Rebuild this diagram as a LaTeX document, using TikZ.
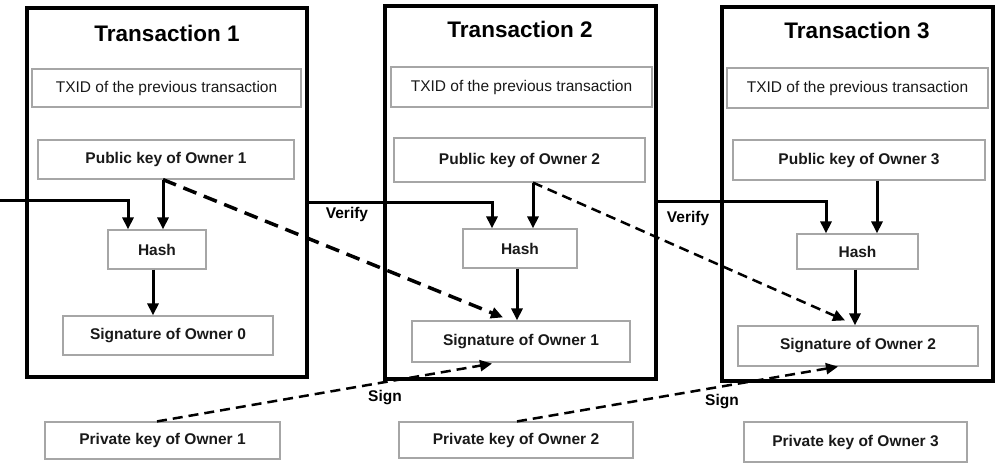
\documentclass[tikz,border=0pt]{standalone}
\usepackage{fontspec}
\setmainfont{Liberation Sans}
\usetikzlibrary{arrows.meta,calc}
\begin{document}
\begin{tikzpicture}[x=1pt,y=-1pt,
  txbox/.style={draw=black,line width=3.5pt,inner sep=0pt,anchor=center},
  inbox/.style={draw=gray!70,line width=1.2pt,inner sep=0pt,anchor=center,text=black!90,font=\fontsize{15.5}{18}\selectfont},
  bold/.style={font=\fontsize{15.5}{18}\selectfont\bfseries},
  title/.style={font=\fontsize{22.5}{26}\selectfont\bfseries},
  lbl/.style={font=\fontsize{15.5}{18}\selectfont\bfseries,inner sep=0pt},
  arr/.style={line width=3pt,-{Triangle[length=12pt,width=11pt]}},
  dthick/.style={line width=3.5pt,dash pattern=on 14pt off 8pt,-{Triangle[length=12pt,width=11pt]}},
  dthin/.style={line width=2.5pt,dash pattern=on 10pt off 6pt,-{Triangle[length=12pt,width=11pt]}}]
\useasboundingbox (0,0) rectangle (1000,466);
% transaction frames
\node[txbox,minimum width=280,minimum height=369] (t1) at (167,192.5) {};
\node[txbox,minimum width=271,minimum height=373] (t2) at (520.5,192.5) {};
\node[txbox,minimum width=271,minimum height=374] (t3) at (857.5,194) {};
\node[title] (ti1) at (167,33) {Transaction 1};
\node[title] (ti2) at (520,29) {Transaction 2};
\node[title] (ti3) at (857,30) {Transaction 3};
% TXID
\node[inbox,minimum width=269,minimum height=38] (tx1) at (166.5,88) {TXID of the previous transaction};
\node[inbox,minimum width=261,minimum height=40] (tx2) at (521.5,87) {TXID of the previous transaction};
\node[inbox,minimum width=261,minimum height=40] (tx3) at (857.5,88) {TXID of the previous transaction};
% public keys
\node[inbox,bold,minimum width=256,minimum height=39] (pk1) at (166,159.5) {Public key of Owner 1};
\node[inbox,bold,minimum width=251,minimum height=44] (pk2) at (519.5,160) {Public key of Owner 2};
\node[inbox,bold,minimum width=252,minimum height=40] (pk3) at (859,160) {Public key of Owner 3};
% hash
\node[inbox,bold,minimum width=98,minimum height=39] (h1) at (157,249.5) {Hash};
\node[inbox,bold,minimum width=114,minimum height=39] (h2) at (520,248.5) {Hash};
\node[inbox,bold,minimum width=121,minimum height=35] (h3) at (857.5,251.5) {Hash};
% signatures
\node[inbox,bold,minimum width=210,minimum height=39] (s1) at (168,335.5) {Signature of Owner 0};
\node[inbox,bold,minimum width=218,minimum height=41] (s2) at (521,341.5) {Signature of Owner 1};
\node[inbox,bold,minimum width=240,minimum height=40] (s3) at (858,346) {Signature of Owner 2};
% private keys
\node[inbox,bold,minimum width=235,minimum height=37] (pr1) at (162.5,440.5) {Private key of Owner 1};
\node[inbox,bold,minimum width=234,minimum height=36] (pr2) at (516,440) {Private key of Owner 2};
\node[inbox,bold,minimum width=223,minimum height=40] (pr3) at (855.5,442) {Private key of Owner 3};
% labels
\node[lbl] (v1) at (347,214) {Verify};
\node[lbl] (v2) at (688,218) {Verify};
\node[lbl] (sg1) at (385,398) {Sign};
\node[lbl] (sg2) at (722,402) {Sign};
% verify lines
\coordinate (in0) at (0,200);
\draw[arr] (in0) -| ([xshift=-29pt]h1.north);
\draw[arr] ($(t1.east)+(0,9.5)$) -| ([xshift=-28pt]h2.north);
\draw[arr] ($(t2.east)+(0,8.5)$) -| ([xshift=-31.5pt]h3.north);
% public key -> hash
\draw[arr] ([xshift=-3pt]pk1.south) -- ([xshift=-3pt]pk1.south |- h1.north);
\draw[arr] ([xshift=13.5pt]pk2.south) -- ([xshift=13.5pt]pk2.south |- h2.north);
\draw[arr] ([xshift=18pt]pk3.south) -- ([xshift=18pt]pk3.south |- h3.north);
% hash -> signature
\draw[arr] ([xshift=-4pt]h1.south) -- ([xshift=-4pt]h1.south |- s1.north);
\draw[arr] ([xshift=-3pt]h2.south) -- ([xshift=-3pt]h2.south |- s2.north);
\draw[arr] ([xshift=-2.5pt]h3.south) -- ([xshift=-2.5pt]h3.south |- s3.north);
% public key -> next signature (dashed)
\draw[dthick] ([xshift=-3pt]pk1.south) -- ($(s2.north)+(-18,-3)$);
\draw[dthin] ([xshift=13.5pt]pk2.south) -- ($(s3.north)+(-13,-5)$);
% sign
\draw[dthin] ([xshift=-5.5pt]pr1.north) -- ($(s2.south)+(-29,1)$);
\draw[dthin] ([xshift=1pt]pr2.north) -- ($(s3.south)+(-20,0)$);
\end{tikzpicture}
\end{document}
